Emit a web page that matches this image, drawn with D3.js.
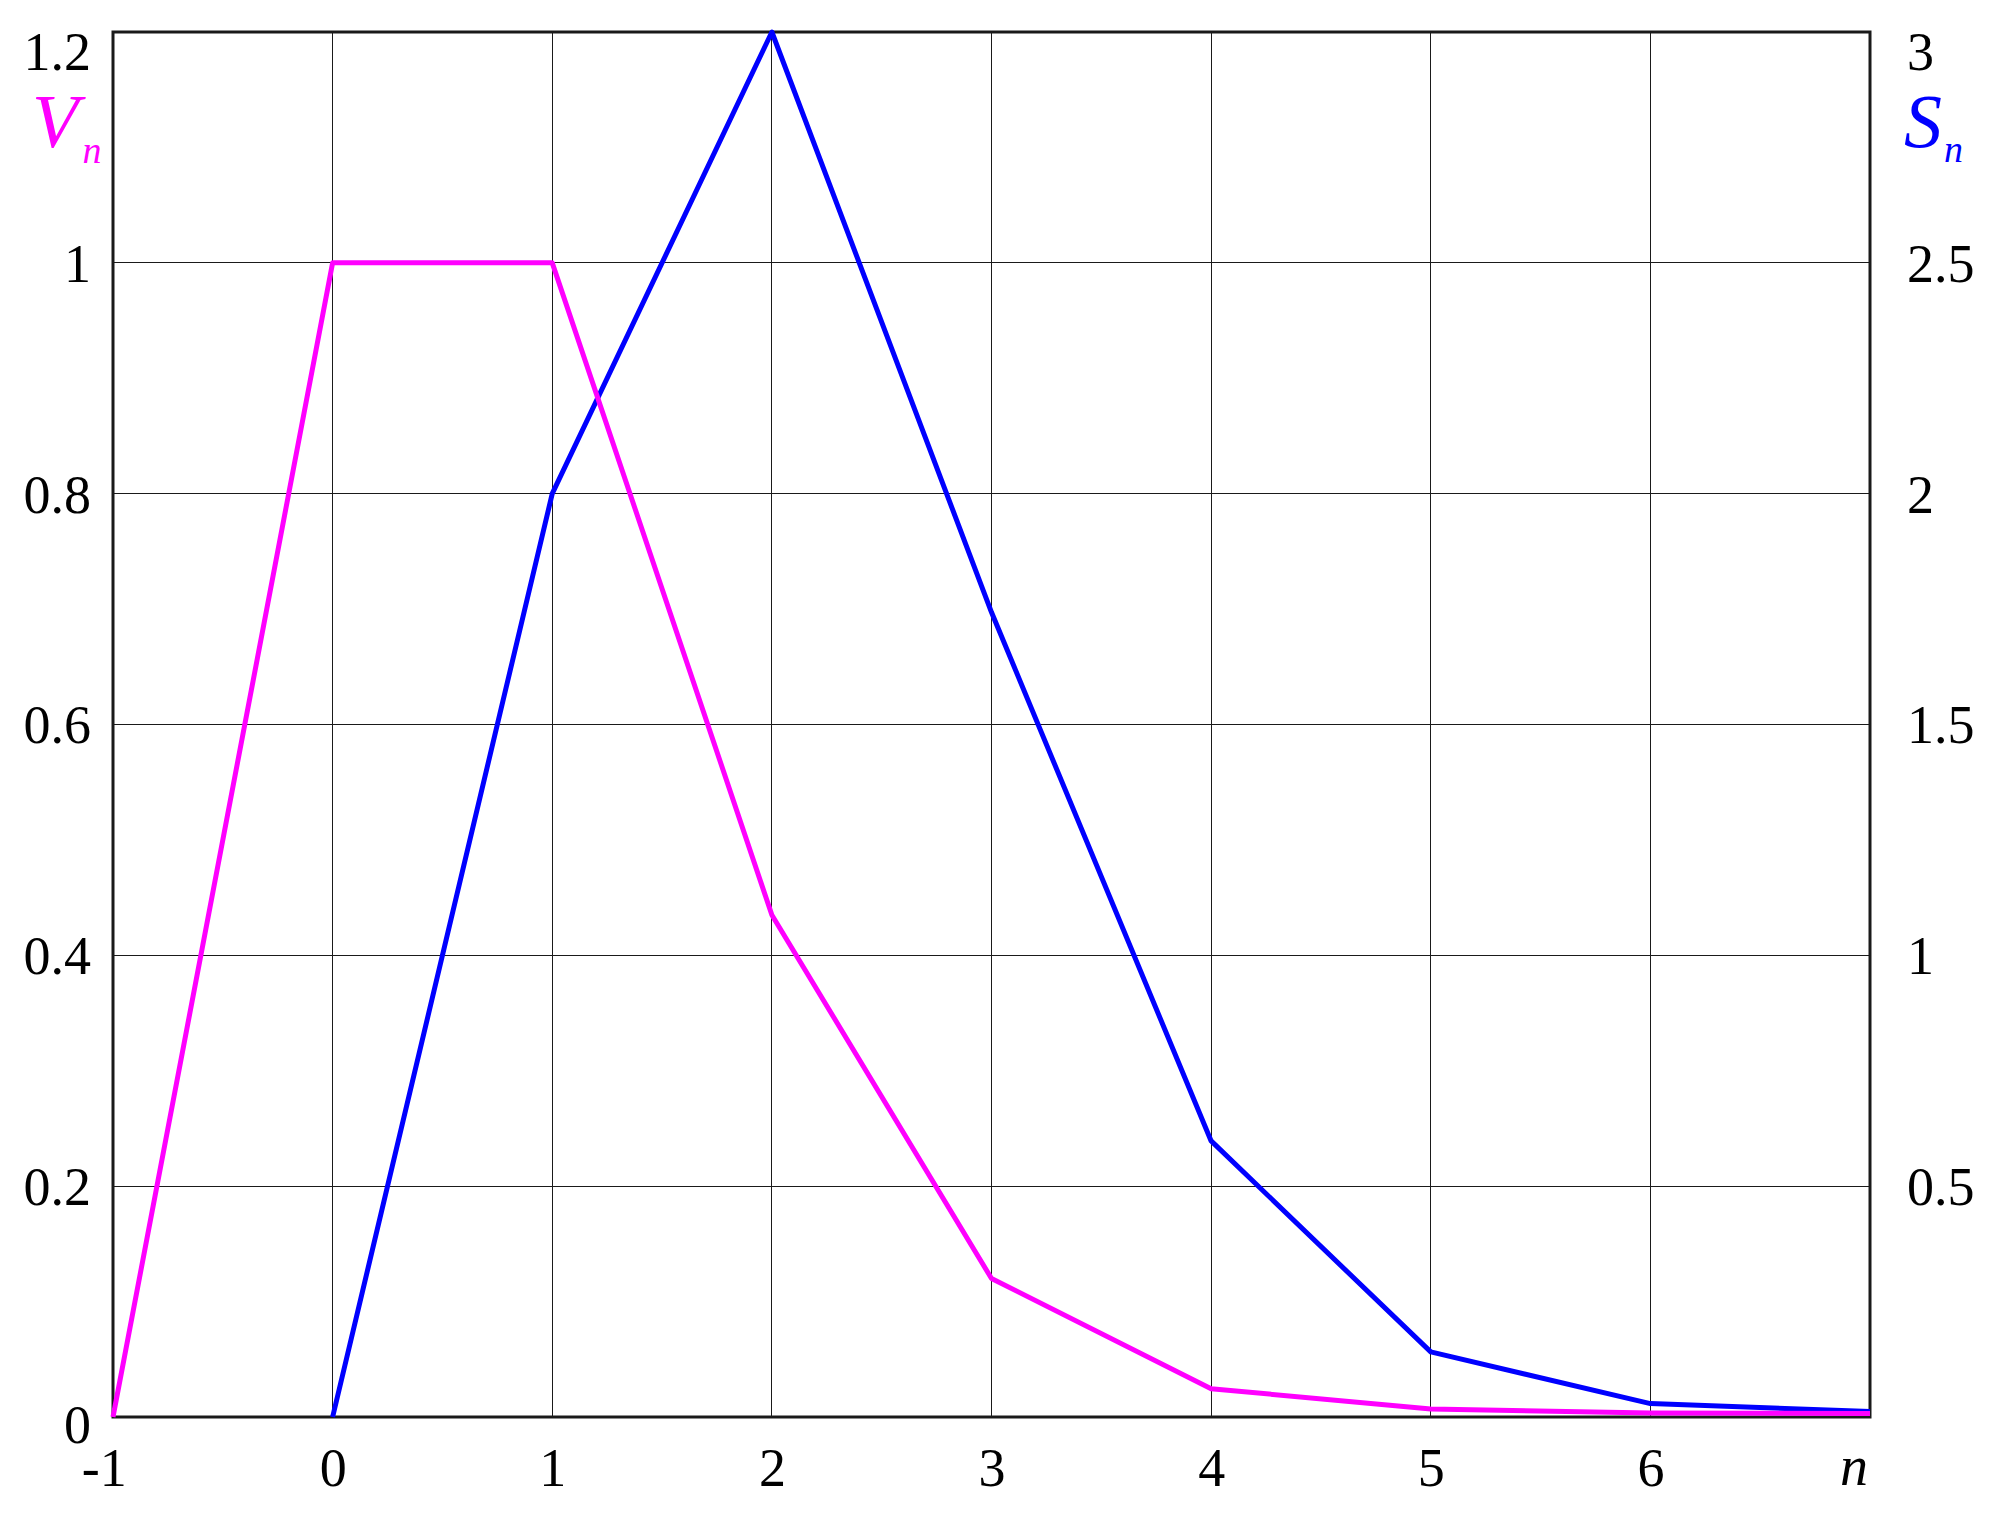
<!DOCTYPE html>
<html>
<head>
<meta charset="utf-8">
<script src="https://cdn.jsdelivr.net/npm/d3@7.8.5/dist/d3.min.js"></script>
<style>
    body { margin: 0; background: #fff; }
    svg { display: block; }
    .tick text { font-family: "Liberation Serif", "Times New Roman", serif; font-size: 54px; fill: #000; }
    .grid line { stroke: #1a1a1a; stroke-width: 1.2px; shape-rendering: crispEdges; }
</style>
</head>
<body>
<script>
    // Данные
    const nV = [-1, 0, 1, 2, 3, 4, 5, 6, 7];
    const vValues = [0, 1, 1, 0.435, 0.12, 0.0245, 0.0069, 0.0035, 0.003];
    const nS = [0, 1, 2, 3, 4, 5, 6, 7];
    const sValues = [0, 2, 3, 1.743, 0.598, 0.141, 0.029, 0.012];

    const xTicks = [-1, 0, 1, 2, 3, 4, 5, 6];
    const vTicks = [0, 0.2, 0.4, 0.6, 0.8, 1, 1.2];
    const sTicks = [0.5, 1, 1.5, 2, 2.5, 3];

    const W = 1995, H = 1515;
    const plotL = 113, plotR = 1870, plotT = 32, plotB = 1417;

    const x = d3.scaleLinear().domain([-1, 7]).range([plotL, plotR]);
    const yV = d3.scaleLinear().domain([0, 1.2]).range([plotB, plotT]);
    const yS = d3.scaleLinear().domain([0, 3]).range([plotB, plotT]);

    const svg = d3.select('body').append('svg')
        .attr('width', W)
        .attr('height', H);

    svg.append('rect').attr('width', W).attr('height', H).attr('fill', '#fff');

    // Сетка
    const grid = svg.append('g').attr('class', 'grid');
    grid.selectAll('.gx')
        .data(xTicks.filter(d => d > -1))
        .enter().append('line')
        .attr('x1', d => x(d)).attr('x2', d => x(d))
        .attr('y1', plotT).attr('y2', plotB);
    grid.selectAll('.gy')
        .data(vTicks.filter(d => d > 0 && d < 1.2))
        .enter().append('line')
        .attr('x1', plotL).attr('x2', plotR)
        .attr('y1', d => yV(d)).attr('y2', d => yV(d));

    // Рамка
    svg.append('rect')
        .attr('x', plotL).attr('y', plotT)
        .attr('width', plotR - plotL).attr('height', plotB - plotT)
        .attr('fill', 'none')
        .attr('stroke', '#1a1a1a')
        .attr('stroke-width', 3);

    const fmt = d => String(d);

    // Ось X
    const gx = svg.append('g')
        .attr('transform', `translate(0,${plotB})`)
        .call(d3.axisBottom(x).tickValues(xTicks).tickSize(0).tickPadding(31).tickFormat(fmt));
    gx.select('.domain').remove();
    gx.selectAll('.tick text').filter(d => d < 0).attr('dx', '-0.17em');

    // Левая ось V
    const gl = svg.append('g')
        .attr('transform', `translate(${plotL},0)`)
        .call(d3.axisLeft(yV).tickValues(vTicks).tickSize(0).tickPadding(22).tickFormat(fmt));
    gl.select('.domain').remove();
    gl.selectAll('.tick text')
        .attr('dy', d => d === 1.2 ? '0.70em' : (d === 0 ? '0.47em' : '0.34em'));

    // Правая ось S
    const gr = svg.append('g')
        .attr('transform', `translate(${plotR},0)`)
        .call(d3.axisRight(yS).tickValues(sTicks).tickSize(0).tickPadding(37).tickFormat(fmt));
    gr.select('.domain').remove();
    gr.selectAll('.tick text')
        .attr('dy', d => d === 3 ? '0.70em' : '0.34em');

    // Линии
    const lineV = d3.line().x((d, i) => x(nV[i])).y(d => yV(d));
    const lineS = d3.line().x((d, i) => x(nS[i])).y(d => yS(d));

    svg.append('path')
        .datum(sValues)
        .attr('d', lineS)
        .attr('fill', 'none')
        .attr('stroke', '#0000ff')
        .attr('stroke-width', 5)
        .attr('stroke-linejoin', 'round');

    svg.append('path')
        .datum(vValues)
        .attr('d', lineV)
        .attr('fill', 'none')
        .attr('stroke', '#ff00ff')
        .attr('stroke-width', 5)
        .attr('stroke-linejoin', 'round');

    // Подписи осей
    const serif = '"Liberation Serif", "Times New Roman", serif';

    const vt = svg.append('text')
        .attr('x', 32).attr('y', 147)
        .attr('font-family', serif).attr('font-style', 'italic')
        .attr('font-size', 76).attr('fill', '#ff00ff');
    vt.append('tspan').text('V');
    vt.append('tspan').attr('font-size', 38).attr('dx', 4).attr('dy', 16).text('n');

    const st = svg.append('text')
        .attr('x', 1904).attr('y', 147)
        .attr('font-family', serif).attr('font-style', 'italic')
        .attr('font-size', 76).attr('fill', '#0000ff');
    st.append('tspan').text('S');
    st.append('tspan').attr('font-size', 38).attr('dx', 2).attr('dy', 15).text('n');

    svg.append('text')
        .attr('x', 1868).attr('y', 1485)
        .attr('text-anchor', 'end')
        .attr('font-family', serif).attr('font-style', 'italic')
        .attr('font-size', 56).attr('fill', '#000')
        .text('n');
</script>
</body>
</html>
